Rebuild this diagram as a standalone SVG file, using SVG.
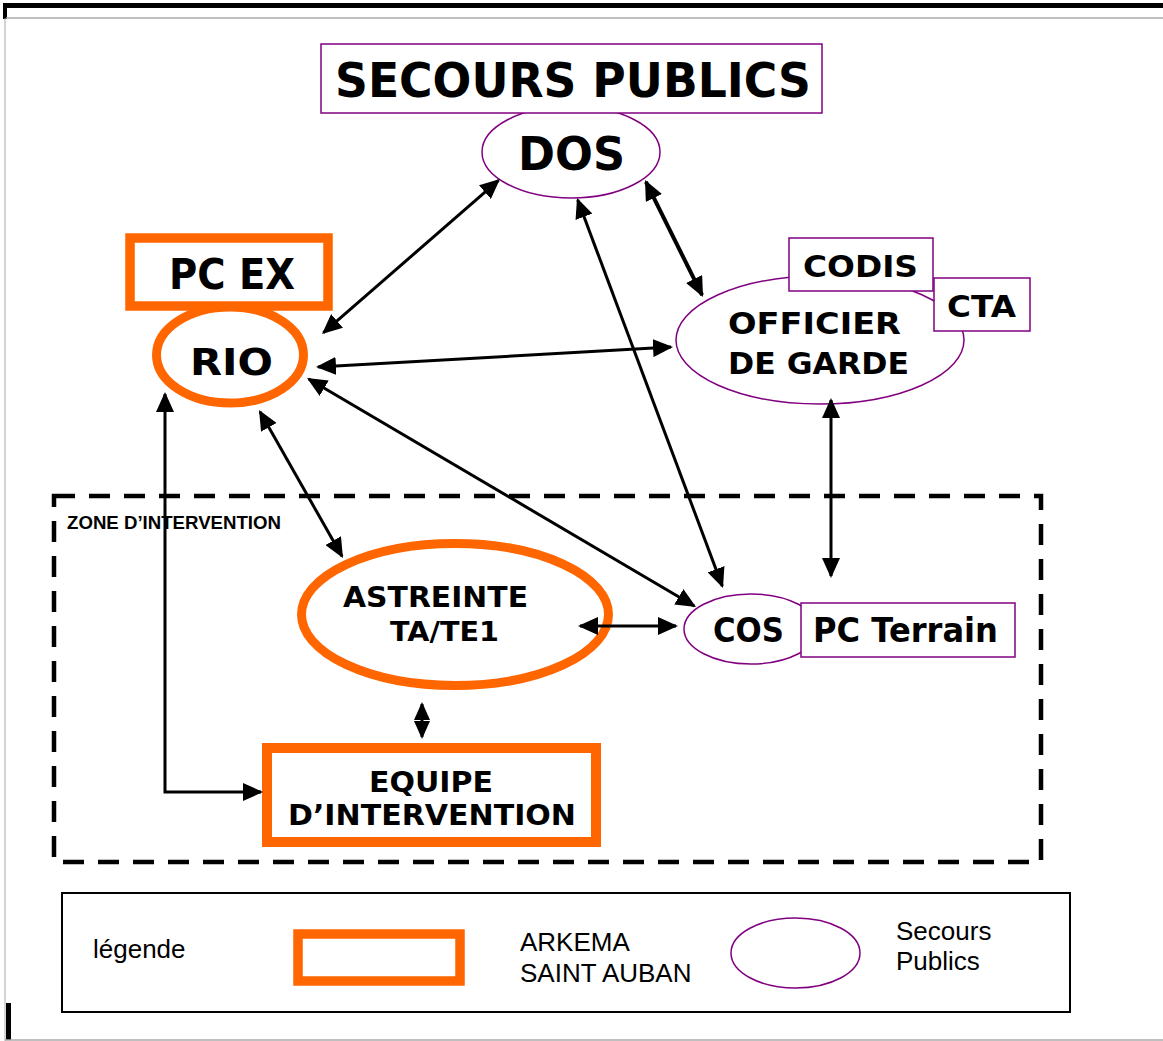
<svg xmlns="http://www.w3.org/2000/svg" width="1163" height="1041" viewBox="0 0 1163 1041">
<style>
.b{font-family:"DejaVu Sans","Verdana",sans-serif;font-weight:bold;fill:#000}
.l{font-family:"Liberation Sans",Arial,sans-serif;fill:#000}
.pu{fill:#fff;stroke:#800080;stroke-width:1.5}
.or{fill:#fff;stroke:#FF6600}
.cn{fill:none;stroke:#000;stroke-width:3}
</style>
<defs>
<marker id="ah" viewBox="0 0 20 18" refX="18" refY="9" markerWidth="20" markerHeight="18" markerUnits="userSpaceOnUse" orient="auto-start-reverse">
<path d="M0,0 L20,9 L0,18 z" fill="#000"/>
</marker>
<marker id="ahs" viewBox="0 0 18 16" refX="16" refY="8" markerWidth="18" markerHeight="16" markerUnits="userSpaceOnUse" orient="auto-start-reverse">
<path d="M0,0 L18,8 L0,16 z" fill="#000"/>
</marker>
</defs>
<rect width="1163" height="1041" fill="#fff"/>
<!-- page frame -->
<g id="frame">
<rect x="3" y="3" width="1160" height="5" fill="#000"/>
<rect x="3" y="3" width="4" height="16" fill="#000"/>
<line x1="6" y1="18" x2="1163" y2="18" stroke="#aaa" stroke-width="1.5"/>
<line x1="5" y1="18" x2="5" y2="1041" stroke="#aaa" stroke-width="1"/>
<rect x="6" y="1003" width="5" height="37" fill="#000"/>
<line x1="5" y1="1040" x2="1163" y2="1040" stroke="#aaa" stroke-width="1.5"/>
</g>
<!-- zone -->
<g id="zone">
<rect x="54" y="496" width="987" height="366" fill="none" stroke="#000" stroke-width="4.5" stroke-dasharray="21 14"/>
<text class="l" x="67" y="529" font-size="18" font-weight="bold" textLength="214" lengthAdjust="spacingAndGlyphs">ZONE D’INTERVENTION</text>
</g>
<!-- nodes -->
<g id="dos">
<ellipse class="pu" cx="571" cy="152" rx="89" ry="46"/>
<text class="b" x="518" y="170" font-size="46" textLength="107" lengthAdjust="spacingAndGlyphs">DOS</text>
</g>
<g id="secours-publics">
<rect class="pu" x="321" y="44" width="501" height="69"/>
<text class="b" x="335" y="97" font-size="48" textLength="476" lengthAdjust="spacingAndGlyphs">SECOURS PUBLICS</text>
</g>
<g id="pc-ex">
<rect class="or" x="130" y="238" width="198" height="68" stroke-width="9.5"/>
<text class="b" x="169" y="289" font-size="42" textLength="126" lengthAdjust="spacingAndGlyphs">PC EX</text>
</g>
<g id="rio">
<ellipse class="or" cx="230" cy="355" rx="73.5" ry="48" stroke-width="9"/>
<text class="b" x="190" y="375" font-size="38" textLength="83" lengthAdjust="spacingAndGlyphs">RIO</text>
</g>
<g id="officier">
<ellipse class="pu" cx="820" cy="340" rx="144" ry="64"/>
<text class="b" x="728" y="334" font-size="30" textLength="173" lengthAdjust="spacingAndGlyphs">OFFICIER</text>
<text class="b" x="728" y="374" font-size="30" textLength="181" lengthAdjust="spacingAndGlyphs">DE GARDE</text>
</g>
<g id="codis">
<rect class="pu" x="789" y="238" width="144" height="53"/>
<text class="b" x="803" y="277" font-size="30" textLength="115" lengthAdjust="spacingAndGlyphs">CODIS</text>
</g>
<g id="cta">
<rect class="pu" x="934" y="278" width="96" height="53"/>
<text class="b" x="947" y="317" font-size="31" textLength="69" lengthAdjust="spacingAndGlyphs">CTA</text>
</g>
<g id="astreinte">
<ellipse class="or" cx="455" cy="614.5" rx="153.5" ry="71" stroke-width="9"/>
<text class="b" x="343" y="607" font-size="29" textLength="185" lengthAdjust="spacingAndGlyphs">ASTREINTE</text>
<text class="b" x="390" y="641" font-size="27" textLength="109" lengthAdjust="spacingAndGlyphs">TA/TE1</text>
</g>
<g id="cos">
<ellipse class="pu" cx="751" cy="629" rx="67" ry="35"/>
<text class="b" x="713" y="642" font-size="33" textLength="71" lengthAdjust="spacingAndGlyphs">COS</text>
</g>
<g id="pc-terrain">
<rect class="pu" x="801" y="603" width="214" height="54"/>
<text class="b" x="813" y="642" font-size="33" textLength="185" lengthAdjust="spacingAndGlyphs">PC Terrain</text>
</g>
<g id="equipe">
<rect class="or" x="267" y="748" width="329" height="94" stroke-width="10"/>
<text class="b" x="369" y="792" font-size="28" textLength="124" lengthAdjust="spacingAndGlyphs">EQUIPE</text>
<text class="b" x="288" y="825" font-size="29" textLength="288" lengthAdjust="spacingAndGlyphs">D’INTERVENTION</text>
</g>
<!-- connectors -->
<g id="connectors" class="cn">
<line x1="323.5" y1="332.7" x2="498.5" y2="180.3" marker-start="url(#ah)" marker-end="url(#ah)"/>
<line x1="577.7" y1="199.9" x2="722.3" y2="586.1" marker-start="url(#ah)" marker-end="url(#ah)"/>
<line x1="645.9" y1="181.8" x2="702.1" y2="295.2" stroke-width="4" marker-start="url(#ah)" marker-end="url(#ah)"/>
<line x1="318" y1="366.9" x2="671" y2="347.1" marker-start="url(#ah)" marker-end="url(#ah)"/>
<line x1="308.7" y1="379" x2="694.3" y2="606" marker-start="url(#ah)" marker-end="url(#ah)"/>
<line x1="260" y1="411.7" x2="342" y2="556.3" marker-start="url(#ah)" marker-end="url(#ah)"/>
<line x1="831" y1="400" x2="831" y2="576" marker-start="url(#ah)" marker-end="url(#ah)"/>
<line x1="580" y1="626" x2="676" y2="626" marker-start="url(#ah)" marker-end="url(#ah)"/>
<line x1="422" y1="704" x2="422" y2="737" marker-start="url(#ahs)" marker-end="url(#ahs)"/>
<polyline points="165,394 165,792 261,792" marker-start="url(#ah)" marker-end="url(#ah)"/>
</g>
<!-- legend -->
<g id="legend">
<rect x="62" y="893" width="1008" height="119" fill="none" stroke="#000" stroke-width="2"/>
<text class="l" x="93" y="958" font-size="26">légende</text>
<rect x="298" y="934" width="162" height="47" fill="none" stroke="#FF6600" stroke-width="9.5"/>
<text class="l" x="520" y="951" font-size="26">ARKEMA</text>
<text class="l" x="520" y="982" font-size="26">SAINT AUBAN</text>
<ellipse cx="795.5" cy="953" rx="64.5" ry="35" fill="none" stroke="#800080" stroke-width="1.5"/>
<text class="l" x="896" y="940" font-size="26">Secours</text>
<text class="l" x="896" y="970" font-size="26">Publics</text>
</g>
</svg>
